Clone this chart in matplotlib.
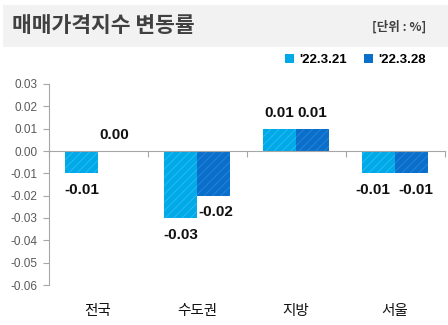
import matplotlib
matplotlib.use("Agg")
import matplotlib.pyplot as plt
import matplotlib.transforms as mtransforms
from matplotlib.patches import Rectangle
import numpy as np

plt.rcParams['font.family'] = ['Noto Sans CJK KR', 'DejaVu Sans']
plt.rcParams['hatch.linewidth'] = 0.6

categories = ['전국', '수도권', '지방', '서울']
series_names = ["'22.3.21", "'22.3.28"]
week1 = [-0.01, -0.03, 0.01, -0.01]
week2 = [0.00, -0.02, 0.01, -0.01]
label1 = ['-0.01', '-0.03', '0.01', '-0.01']
label2 = ['0.00', '-0.02', '0.01', '-0.01']
yticks = [0.03, 0.02, 0.01, 0.00, -0.01, -0.02, -0.03, -0.04, -0.05, -0.06]

colors = ['#00A9E8', '#0A6FCB']
hatch_colors = ['#33BDF0', '#2C86D8']
num_font = ['Liberation Sans', 'DejaVu Sans']
# small horizontal nudges (points) so neighbouring labels don't collide
shift1 = [0, 0, 0, -4]
shift2 = [0, 2, 0, 3]

fig = plt.figure(figsize=(4.48, 3.25), dpi=100)

# title band
fig.patches.append(Rectangle((0.007, 1 - 47 / 325), 0.993, 42 / 325,
                             transform=fig.transFigure, facecolor='#F2F2F2',
                             edgecolor='none', zorder=0))
fig.text(12 / 448, 1 - 26 / 325, '매매가격지수 변동률', fontsize=15.5, color='#404040',
         fontweight='bold', va='center', ha='left')
fig.text(426 / 448, 1 - 27 / 325, '[단위 : %]', fontsize=9, color='#404040',
         fontweight='bold', va='center', ha='right')

ax = fig.add_axes([48.5 / 448, 1 - 285 / 325, 396 / 448, 201 / 325])

x = np.arange(len(categories))
w = 0.333
b1 = ax.bar(x - w / 2, week1, w, color=colors[0], edgecolor=hatch_colors[0],
            linewidth=0, hatch='////', label=series_names[0], zorder=2)
b2 = ax.bar(x + w / 2, week2, w, color=colors[1], edgecolor=hatch_colors[1],
            linewidth=0, hatch='////', label=series_names[1], zorder=2)

for bars, vals, labs, shifts in [(b1, week1, label1, shift1), (b2, week2, label2, shift2)]:
    for rect, v, lab, dx in zip(bars, vals, labs, shifts):
        cx = rect.get_x() + rect.get_width() / 2
        if v < 0:
            ax.annotate(lab, (cx, v), xytext=(dx, -7), textcoords='offset points',
                        ha='center', va='top', fontsize=11, fontweight='bold',
                        family=num_font, color='#111111')
        else:
            ax.annotate(lab, (cx, v), xytext=(dx, 6.5), textcoords='offset points',
                        ha='center', va='bottom', fontsize=11, fontweight='bold',
                        family=num_font, color='#111111')

ax.set_xlim(-0.5, len(categories) - 0.5)
ax.set_ylim(-0.06, 0.03)
ax.set_yticks(yticks)
ax.set_yticklabels([f'{t:.2f}' for t in yticks], family=num_font)
ax.tick_params(axis='y', colors='#A6A6A6', labelcolor='#595959', labelsize=8.5,
               length=4, width=0.8, pad=4)

ax.spines['top'].set_visible(False)
ax.spines['right'].set_visible(False)
ax.spines['left'].set_color('#A6A6A6')
ax.spines['bottom'].set_position(('data', 0))
ax.spines['bottom'].set_color('#A6A6A6')
ax.set_xticks(np.arange(len(categories) + 1) - 0.5)
ax.set_xticklabels([])
ax.tick_params(axis='x', colors='#A6A6A6', length=4, width=0.8, direction='out')

trans = mtransforms.blended_transform_factory(ax.transData, ax.transAxes)
for xi, cat in zip(x, categories):
    ax.text(xi, -0.13, cat, transform=trans, ha='center', va='center',
            fontsize=10.5, color='#111111')

leg = fig.legend(handles=[b1, b2], labels=series_names, loc='center right',
                 bbox_to_anchor=(438 / 448, 1 - 60 / 325), ncol=2, frameon=False,
                 handlelength=0.7, handleheight=0.7, handletextpad=0.4,
                 columnspacing=1.3, prop={'size': 9.5, 'weight': 'bold',
                                          'family': num_font})
for h in leg.legend_handles:
    h.set_hatch(None)

fig.savefig('out.png', dpi=100)
